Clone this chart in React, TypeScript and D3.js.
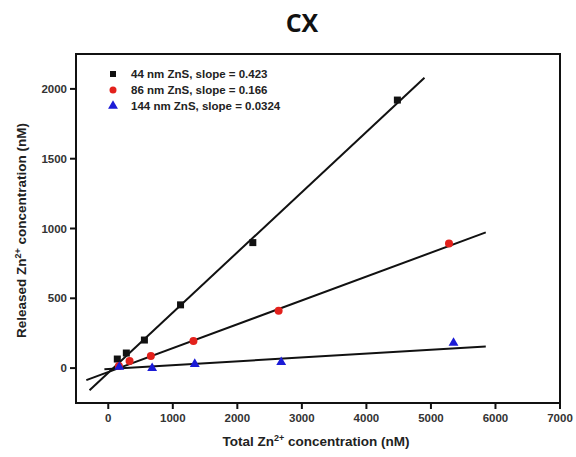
import React from "react";
import * as d3 from "d3";

const W = 576, H = 457;

const xTicks = [0, 1000, 2000, 3000, 4000, 5000, 6000, 7000];
const yTicks = [0, 500, 1000, 1500, 2000];

// 44 nm ZnS (black squares)
const s44x = [140, 280, 560, 1120, 2240, 4480];
const s44y = [65, 108, 201, 453, 899, 1920];
// 86 nm ZnS (red circles)
const s86x = [165, 330, 660, 1320, 2640, 5280];
const s86y = [15, 50, 86, 194, 410, 892];
// 144 nm ZnS (blue triangles)
const s144x = [170, 680, 1340, 2680, 5350];
const s144y = [8, 0, 29, 43, 180];

// fit line endpoints [x0, x1], [y0, y1]
const fit44x = [-290, 4900];
const fit44y = [-158, 2080];
const fit86x = [-340, 5850];
const fit86y = [-86, 972];
const fit144x = [-60, 5850];
const fit144y = [-8, 155];

const legendLabels = [
  "44 nm ZnS, slope = 0.423",
  "86 nm ZnS, slope = 0.166",
  "144 nm ZnS, slope = 0.0324",
];

export default function App() {
  const left = 76, right = 560, top = 54, bottom = 403;
  const x = d3.scaleLinear().domain([-500, 7000]).range([left, right]);
  const y = d3.scaleLinear().domain([-250, 2250]).range([bottom, top]);
  const font = "'Liberation Sans', Arial, sans-serif";
  const tri = d3.symbol().type(d3.symbolTriangle).size(42)();
  const line = d3.line<[number, number]>().x(d => x(d[0])).y(d => y(d[1]));
  const fits: [number[], number[]][] = [[fit44x, fit44y], [fit86x, fit86y], [fit144x, fit144y]];
  const red = "#e3211c", blue = "#1b1bd6";

  return (
    <svg width={W} height={H} style={{ position: "absolute", left: 0, top: 0, background: "#fff" }}>
      <text x={302} y={32} textAnchor="middle" fontFamily="'Open Sans', sans-serif" fontWeight="bold" fontSize={25} fill="#111">CX</text>
      {fits.map(([fx, fy], i) => (
        <path key={i} d={line([[fx[0], fy[0]], [fx[1], fy[1]]]) || ""} stroke="#111" strokeWidth={2} fill="none" />
      ))}
      {s44x.map((v, i) => (
        <rect key={"a" + i} x={x(v) - 3.5} y={y(s44y[i]) - 3.5} width={7} height={7} fill="#111" />
      ))}
      {s86x.map((v, i) => (
        <circle key={"b" + i} cx={x(v)} cy={y(s86y[i])} r={4} fill={red} />
      ))}
      {s144x.map((v, i) => (
        <path key={"c" + i} d={tri || ""} transform={`translate(${x(v)},${y(s144y[i])})`} fill={blue} />
      ))}
      <rect x={left} y={top} width={right - left} height={bottom - top} fill="none" stroke="#111" strokeWidth={2} />
      {xTicks.map(t => (
        <g key={"x" + t}>
          <line x1={x(t)} x2={x(t)} y1={bottom} y2={bottom + 6} stroke="#111" strokeWidth={2} />
          <text x={x(t)} y={bottom + 19} textAnchor="middle" fontFamily={font} fontWeight="bold" fontSize={11.5} fill="#333">{t}</text>
        </g>
      ))}
      {yTicks.map(t => (
        <g key={"y" + t}>
          <line x1={left - 6} x2={left} y1={y(t)} y2={y(t)} stroke="#111" strokeWidth={2} />
          <text x={left - 9} y={y(t) + 4} textAnchor="end" fontFamily={font} fontWeight="bold" fontSize={11.5} fill="#333">{t}</text>
        </g>
      ))}
      {legendLabels.map((lab, i) => {
        const ly = 74 + i * 16;
        return (
          <g key={"l" + i}>
            {i === 0 && <rect x={110} y={ly - 3} width={6} height={6} fill="#111" />}
            {i === 1 && <circle cx={113} cy={ly} r={3.5} fill={red} />}
            {i === 2 && <path d={tri || ""} transform={`translate(113,${ly})`} fill={blue} />}
            <text x={131} y={ly + 4} fontFamily={font} fontWeight="bold" fontSize={11.5} fill="#222">{lab}</text>
          </g>
        );
      })}
      <text x={316} y={446} textAnchor="middle" fontFamily={font} fontWeight="bold" fontSize={13.5} fill="#222">
        Total Zn<tspan dy={-5} fontSize={9}>2+</tspan><tspan dy={5}> concentration (nM)</tspan>
      </text>
      <text transform={`translate(26,${(top + bottom) / 2 + 2}) rotate(-90)`} textAnchor="middle" fontFamily={font} fontWeight="bold" fontSize={13.5} fill="#222">
        Released Zn<tspan dy={-5} fontSize={9}>2+</tspan><tspan dy={5}> concentration (nM)</tspan>
      </text>
    </svg>
  );
}
